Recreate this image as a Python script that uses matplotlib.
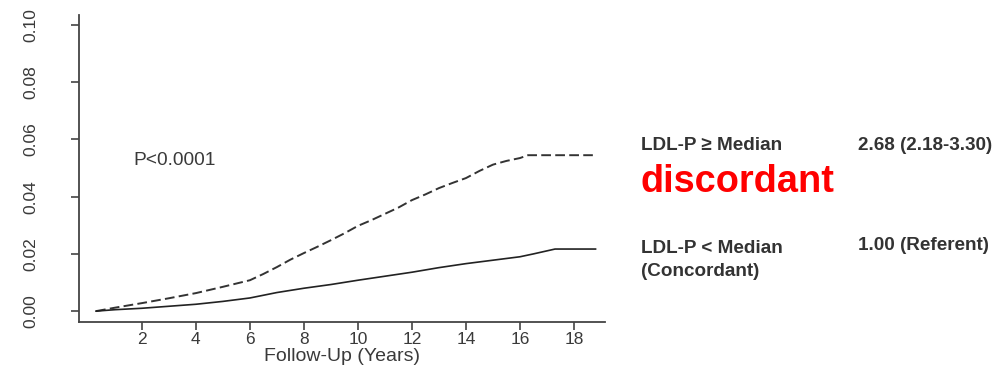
import matplotlib
matplotlib.use("Agg")
import matplotlib.pyplot as plt

plt.rcParams['font.family'] = ['Liberation Sans', 'DejaVu Sans']

# Data
years_disc = [0.3, 1.0, 2.0, 3.0, 4.0, 5.0, 6.0, 6.5, 7.0, 7.5, 8.0, 8.5, 9.0, 9.5, 10.0,
              10.5, 11.0, 11.5, 12.0, 12.5, 13.0, 13.5, 14.0, 14.5, 15.0, 15.5, 16.0, 16.3, 18.7]
risk_disc = [0.0, 0.0012, 0.0028, 0.0045, 0.0063, 0.0085, 0.0108, 0.0130, 0.0154, 0.0180,
             0.0203, 0.0225, 0.0248, 0.0272, 0.0298, 0.0318, 0.0340, 0.0362, 0.0388, 0.0408,
             0.0430, 0.0448, 0.0465, 0.0490, 0.0512, 0.0525, 0.0535, 0.0545, 0.0545]
years_conc = [0.3, 1.0, 2.0, 3.0, 4.0, 5.0, 6.0, 7.0, 8.0, 9.0, 10.0, 11.0, 12.0, 13.0,
              14.0, 15.0, 16.0, 16.5, 17.3, 18.8]
risk_conc = [0.0, 0.0005, 0.0010, 0.0017, 0.0024, 0.0034, 0.0046, 0.0065, 0.0080, 0.0093,
             0.0108, 0.0122, 0.0136, 0.0152, 0.0166, 0.0178, 0.0190, 0.0200, 0.0217, 0.0217]
x_ticks = [2, 4, 6, 8, 10, 12, 14, 16, 18]
y_ticks = [0.00, 0.02, 0.04, 0.06, 0.08, 0.10]
y_tick_labels = ["0.00", "0.02", "0.04", "0.06", "0.08", "0.10"]
x_label = "Follow-Up (Years)"
p_text = "P<0.0001"
group_labels = ["LDL-P \u2265 Median", "LDL-P < Median\n(Concordant)"]
hr_labels = ["2.68 (2.18-3.30)", "1.00 (Referent)"]
highlight = "discordant"

W, H = 1002, 371
fig = plt.figure(figsize=(W / 100, H / 100), dpi=100)
ax = fig.add_axes([79 / W, 1 - 322 / H, (605 - 79) / W, (322 - 15) / H])

ink = "#3a3a3a"
ax.plot(years_disc, risk_disc, color="#333333", lw=1.4, ls=(0, (5, 2.2)))
ax.plot(years_conc, risk_conc, color="#222222", lw=1.2)

ax.set_xlim(-0.33, 19.15)
ax.set_ylim(-0.0038, 0.1035)
ax.set_xticks(x_ticks)
ax.set_yticks(y_ticks)
ax.set_yticklabels(y_tick_labels, rotation=90, va="center")
ax.spines["top"].set_visible(False)
ax.spines["right"].set_visible(False)
for s in ("left", "bottom"):
    ax.spines[s].set_color("#444444")
    ax.spines[s].set_linewidth(1.3)
ax.tick_params(axis="both", direction="out", length=6, width=1.2, colors="#444444",
               labelsize=12.5, labelcolor=ink)
ax.tick_params(axis="x", pad=1)
ax.tick_params(axis="y", pad=23)
ax.set_xlabel(x_label, fontsize=14, color=ink, labelpad=1)

ax.text(1.67, 0.0528, p_text, fontsize=13.8, color=ink, va="center", ha="left")

fs = 13.6
fig.text(641 / W, 1 - 145 / H, group_labels[0], fontsize=fs, fontweight="bold",
         color="#333333", va="center", ha="left")
fig.text(858 / W, 1 - 145 / H, hr_labels[0], fontsize=fs, fontweight="bold",
         color="#333333", va="center", ha="left")
fig.text(640 / W, 1 - 182 / H, highlight, fontsize=27.3, fontweight="bold",
         color="#ff0000", va="center", ha="left")
fig.text(641 / W, 1 - 260 / H, group_labels[1], fontsize=fs, fontweight="bold",
         color="#333333", va="center", ha="left", linespacing=1.4)
fig.text(858 / W, 1 - 245 / H, hr_labels[1], fontsize=fs, fontweight="bold",
         color="#333333", va="center", ha="left")

fig.savefig("out.png", dpi=100)
